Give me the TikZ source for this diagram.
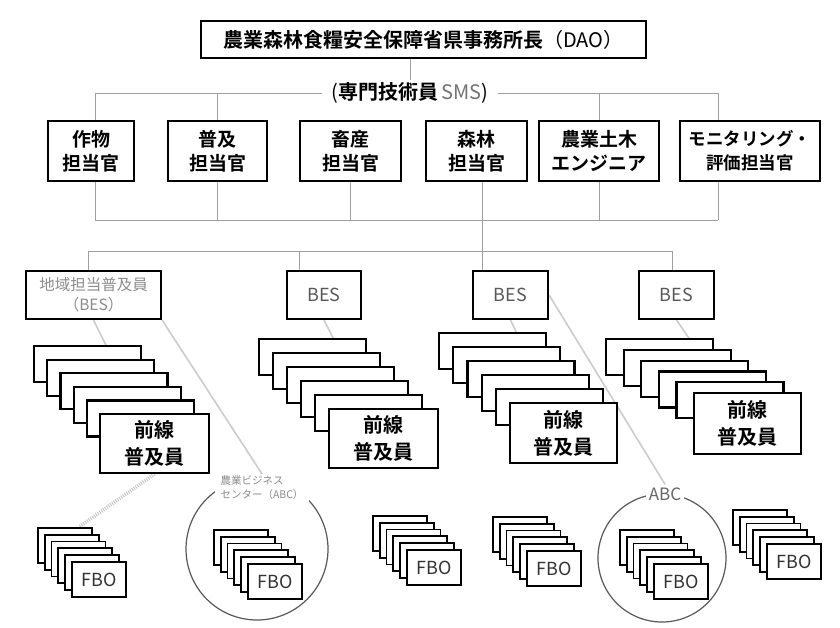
\documentclass[tikz,border=0pt]{standalone}
\usepackage{fontspec}
\setmainfont{Noto Sans CJK JP}[BoldFont={* Bold}]
\usetikzlibrary{calc}
\pgfdeclarelayer{back}
\pgfdeclarelayer{bg}
\pgfsetlayers{back,bg,main}
\begin{document}
\begin{tikzpicture}[x=1pt,y=-1pt,
  box/.style={draw, line width=2.1pt, fill=white, inner sep=0pt, align=center, anchor=north west},
  fbox/.style={draw, line width=1.8pt, fill=white, inner sep=0pt, anchor=north west, minimum width=54, minimum height=35},
  conn/.style={draw=gray!75, line width=0.8pt},
  diag/.style={draw=gray!40, line width=1.6pt},
  hatch/.style={draw=gray!45, line width=3.5pt, dash pattern=on 1pt off 1.2pt},
  ring/.style={draw=black!65, line width=1.2pt, circle, inner sep=0pt},
  jp/.style={font=\fontsize{19}{24}\selectfont\bfseries},
  fl/.style={font=\fontsize{20}{27}\selectfont\bfseries},
  bes/.style={font=\fontsize{18}{20}\selectfont, text=black!65},
]
\useasboundingbox (0,0) rectangle (840,628);
\begin{pgfonlayer}{back}
\fill[white] (0,0) rectangle (840,628);
\end{pgfonlayer}

% top
\node[box, minimum width=445, minimum height=37, font=\fontsize{20}{24}\selectfont\bfseries] (dao) at (200,20) {農業森林食糧安全保障省県事務所長\mdseries（DAO）};
\node[fill=white, inner xsep=10pt, inner ysep=2pt, font=\fontsize{20}{24}\selectfont] (smsl) at (410,93) {(\textbf{専門技術員}\,\textcolor{black!55}{SMS})};

% SMS boxes
\node[box, jp, minimum width=86, minimum height=60] (s1) at (47,120) {作物\\担当官};
\node[box, jp, minimum width=99, minimum height=60] (s2) at (167,120) {普及\\担当官};
\node[box, jp, minimum width=101, minimum height=60] (s3) at (299,120) {畜産\\担当官};
\node[box, jp, minimum width=101, minimum height=60] (s4) at (425,120) {森林\\担当官};
\node[box, jp, minimum width=120, minimum height=60] (s5) at (538,120) {農業土木\\エンジニア};
\node[box, font=\fontsize{17.5}{24}\selectfont\bfseries, minimum width=140, minimum height=60] (s6) at (679,120) {モニタリング・\\評価担当官};

% BES boxes
\node[box, font=\fontsize{15.5}{20}\selectfont, text=black!45, minimum width=135, minimum height=48] (b1) at (25,270) {地域担当普及員\\（BES）};
\node[box, bes, minimum width=74, minimum height=48] (b2) at (286,270) {BES};
\node[box, bes, minimum width=75, minimum height=48] (b3) at (472,270) {BES};
\node[box, bes, minimum width=75, minimum height=48] (b4) at (638,270) {BES};

% front-line stacks
\foreach \i in {1,...,5} \node[box, minimum width=107, minimum height=36] (fa\i) at ({33+13.2*(\i-1)},{345+13.6*(\i-1)}) {};
\node[box, fl, minimum width=109, minimum height=59] (f1) at (99,413) {前線\\普及員};
\foreach \i in {1,...,5} \node[box, minimum width=107, minimum height=36] (fb\i) at ({258+14*(\i-1)},{338+14*(\i-1)}) {};
\node[box, fl, minimum width=109, minimum height=59] (f2) at (328,408) {前線\\普及員};
\foreach \i in {1,...,5} \node[box, minimum width=107, minimum height=36] (fc\i) at ({438+14.2*(\i-1)},{332+14*(\i-1)}) {};
\node[box, fl, minimum width=107, minimum height=60] (f3) at (509,402) {前線\\普及員};
\foreach \i in {1,...,5} \node[box, minimum width=107, minimum height=36] (fd\i) at ({605+17.6*(\i-1)},{338+10.8*(\i-1)}) {};
\node[box, fl, minimum width=107, minimum height=61] (f4) at (693,392) {前線\\普及員};

% ABC circles
\node[ring, minimum size=142] (abc1) at (257,549) {};
\node[ring, minimum size=128] (abc2) at (662,558) {};
\node[fill=white, text=black!45, align=left, inner xsep=6pt, inner ysep=2pt, font=\fontsize{10.5}{14}\selectfont] (abc1l) at (262,488) {農業ビジネス\\センター（ABC）};
\node[fill=white, text=black!60, inner sep=3pt, font=\fontsize{17}{20}\selectfont] (abc2l) at (665,494) {ABC};

% FBO stacks
\foreach \k/\bx/\by in {1/37/527, 2/213/529, 3/372/515, 4/492/516, 5/619/529, 6/732/509} {
  \foreach \i in {1,...,5} \node[fbox] (fbo\k-\i) at ({\bx+6.8*(\i-1)},{\by+6.8*(\i-1)}) {};
  \node[fbox, font=\fontsize{18}{20}\selectfont, text=black!80] (fbo\k) at ({\bx+34},{\by+34}) {FBO};
}

% connectors
\begin{pgfonlayer}{bg}
\coordinate (t1w) at (95,93);
\coordinate (t1e) at (718,93);
\coordinate (h1w) at (95,220);
\coordinate (h1e) at (718,220);
\coordinate (v34) at (482,220);
\coordinate (h2w) at (88,251);
\coordinate (h2e) at (672,251);
\coordinate (v2) at (299,251);
\draw[conn] (dao.south -| smsl) -- (smsl.north);
\draw[conn] (t1w) -- (t1e);
\draw[conn] (t1w) -- (t1w |- s1.north);
\draw[conn] (s2.north) -- (s2.north |- t1w);
\draw[conn] (s5.north) -- (s5.north |- t1w);
\draw[conn] (t1e) -- (t1e |- s6.north);
\draw[conn] (h1w) -- (h1e);
\draw[conn] (h1w) -- (h1w |- s1.south);
\draw[conn] (s2.south) -- (s2.south |- h1w);
\draw[conn] (s3.south) -- (s3.south |- h1w);
\draw[conn] (s5.south) -- (s5.south |- h1w);
\draw[conn] (h1e) -- (h1e |- s6.south);
\draw[conn] (v34 |- s4.south) -- (v34 |- b3.north);
\draw[conn] (h2w) -- (h2e);
\draw[conn] (h2w) -- (h2w |- b1.north);
\draw[conn] (v2) -- (v2 |- b2.north);
\draw[conn] (h2e) -- (h2e |- b4.north);
\draw[diag] (b1.south) -- (f1.center);
\draw[diag] (b2.south) -- (f2.center);
\draw[diag] (b3.south) -- (f3.center);
\draw[diag] (b4.south) -- (f4.center);
\draw[diag] (b1.south east) -- (abc1l.north);
\draw[diag] (b3.east) -- (abc2l.north);
\draw[hatch] (f1.south) -- ($(fbo1-1.north)!0.5!(fbo1-1.north east)$);
\end{pgfonlayer}
\end{tikzpicture}
\end{document}
